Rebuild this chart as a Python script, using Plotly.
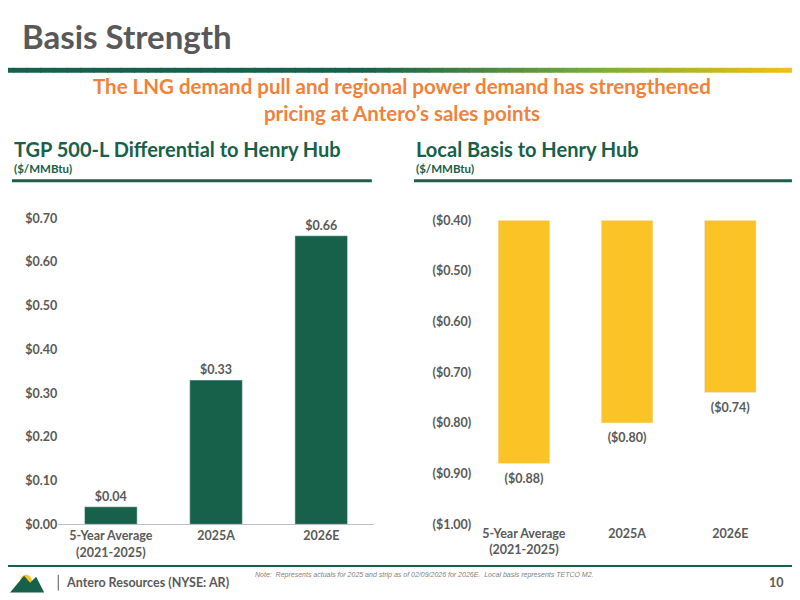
import plotly.graph_objects as go

# chart data
categories = ["<b>5-Year Average</b><br><b>(2021-2025)</b>", "<b>2025A</b>", "<b>2026E</b>"]
tgp_diff = [0.04, 0.33, 0.66]
tgp_labels = ["<b>$0.04</b>", "<b>$0.33</b>", "<b>$0.66</b>"]
local_basis = [-0.88, -0.80, -0.74]
local_labels = ["<b>($0.88)</b>", "<b>($0.80)</b>", "<b>($0.74)</b>"]
local_top = -0.40
left_ticks = [0, 0.1, 0.2, 0.3, 0.4, 0.5, 0.6, 0.7]
left_ticktext = ["$0.00", "$0.10", "$0.20", "$0.30", "$0.40", "$0.50", "$0.60", "$0.70"]
right_ticks = [-1.0, -0.9, -0.8, -0.7, -0.6, -0.5, -0.4]
right_ticktext = ["($1.00)", "($0.90)", "($0.80)", "($0.70)", "($0.60)", "($0.50)", "($0.40)"]

GREEN = "#17604A"
DARK = "#595959"
FONT = "Lato"

# pixel position in the screenshot -> paper coords (the page renders slightly offset)
def PX(x):
    return (x - 8) / 0.995 / 800

def PY(y):
    return 1 - (y - 11.7) / 0.9846 / 600

fig = go.Figure()

fig.add_trace(go.Bar(x=categories, y=tgp_diff, text=tgp_labels, textposition="outside",
                     marker_color=GREEN, width=0.5, xaxis="x", yaxis="y",
                     textfont=dict(size=12.5, color=DARK, family=FONT), cliponaxis=False))

# floating bars hanging from -0.40
fig.add_trace(go.Bar(x=categories, y=[local_top - v for v in local_basis], base=local_basis,
                     marker_color="#FBC325", width=0.5, xaxis="x2", yaxis="y2"))
fig.add_trace(go.Scatter(x=categories, y=[v - 0.02 for v in local_basis], mode="text", text=local_labels,
                         textposition="bottom center", xaxis="x2", yaxis="y2",
                         textfont=dict(size=12.5, color=DARK, family=FONT), cliponaxis=False))

axis_font = dict(size=12.5, color=DARK, family=FONT)
fig.update_layout(
    width=800, height=600, margin=dict(l=0, r=0, t=0, b=0),
    plot_bgcolor="white", paper_bgcolor="white", showlegend=False,
    font=dict(family=FONT),
    xaxis=dict(domain=[PX(58), PX(372)], anchor="y", showline=True, linecolor="#BFBFBF",
               tickfont=axis_font, ticks=""),
    yaxis=dict(domain=[PY(525), PY(216)], anchor="x", range=[0, 0.7], tickvals=left_ticks,
               ticktext=["<b>%s</b>" % t for t in left_ticktext], showgrid=False, zeroline=False,
               tickfont=axis_font),
    xaxis2=dict(domain=[PX(470), PX(778)], anchor="y2", showline=False, tickfont=axis_font,
                ticks=""),
    yaxis2=dict(domain=[PY(525), PY(218)], anchor="x2", range=[-1.0, -0.4], tickvals=right_ticks,
                ticktext=["<b>%s</b>" % t for t in right_ticktext], showgrid=False, zeroline=False,
                tickfont=axis_font),
)

shapes = []
# header gradient line, green to yellow
n = 60
for i in range(n):
    t = i / (n - 1)
    if t < 0.45:
        c = (0x17, 0x60, 0x4A)
    elif t < 0.75:
        u = (t - 0.45) / 0.3
        c = (int(0x17 + u * (0x7A - 0x17)), int(0x60 + u * (0xAE - 0x60)), int(0x4A + u * (0x3A - 0x4A)))
    else:
        u = (t - 0.75) / 0.25
        c = (int(0x7A + u * (0xFC - 0x7A)), int(0xAE + u * (0xC0 - 0xAE)), int(0x3A + u * (0x10 - 0x3A)))
    shapes.append(dict(type="rect", xref="paper", yref="paper", x0=PX(i * 800 / n), x1=PX((i + 1) * 800 / n + 1),
                       y0=PY(69), y1=PY(64), line_width=0, fillcolor="rgb(%d,%d,%d)" % c))
# section underlines
for x0, x1 in [(12, 370), (412, 788)]:
    shapes.append(dict(type="line", xref="paper", yref="paper", x0=PX(x0), x1=PX(x1),
                       y0=PY(178), y1=PY(178), line=dict(color=GREEN, width=3)))
# footer line
shapes.append(dict(type="line", xref="paper", yref="paper", x0=0, x1=1,
                   y0=PY(567), y1=PY(567), line=dict(color=GREEN, width=2)))
shapes.append(dict(type="line", xref="paper", yref="paper", x0=PX(58), x1=PX(58),
                   y0=PY(592), y1=PY(576), line=dict(color=DARK, width=1)))
# simple logo
shapes.append(dict(type="circle", xref="paper", yref="paper", x0=PX(20), x1=PX(32),
                   y0=PY(590), y1=PY(576), fillcolor="#F8C21A", line_width=0))
pts = [(10, 594), (24, 577), (30, 584), (36, 578), (44, 594)]
path = "M " + " L ".join("%f %f" % (PX(x), PY(y)) for x, y in pts) + " Z"
shapes.append(dict(type="path", xref="paper", yref="paper", path=path, fillcolor=GREEN, line_width=0))
fig.update_layout(shapes=shapes)

def txt(x, y, s, size, color, bold=False, anchor="left", align="left"):
    fig.add_annotation(x=PX(x), y=PY(y), xref="paper", yref="paper", text=("<b>%s</b>" % s) if bold else s,
                       showarrow=False, xanchor=anchor, yanchor="middle", align=align,
                       font=dict(size=size, color=color, family=FONT))

txt(20, 32, "Basis Strength", 33, DARK, bold=True)
txt(400, 96, "The LNG demand pull and regional power demand has strengthened<br>pricing at Antero\u2019s sales points",
    20.5, "#F0823A", bold=True, anchor="center", align="center")
txt(12, 146, "TGP 500-L Differential to Henry Hub", 20, GREEN, bold=True)
txt(12, 166, "($/MMBtu)", 11.5, GREEN, bold=True)
txt(412, 146, "Local Basis to Henry Hub", 20, GREEN, bold=True)
txt(412, 166, "($/MMBtu)", 11.5, GREEN, bold=True)
txt(64, 584, "Antero Resources (NYSE: AR)", 12.5, DARK, bold=True)
fig.add_annotation(x=PX(252), y=PY(582), xref="paper", yref="paper", showarrow=False, xanchor="left",
                   text="<i>Note:  Represents actuals for 2025 and strip as of 02/09/2026 for 2026E.  Local basis represents TETCO M2.</i>",
                   font=dict(size=7, color="#7F7F7F", family="Liberation Sans"))
txt(782, 584, "10", 12.5, DARK, bold=True, anchor="right")

fig.write_html("out.html")
